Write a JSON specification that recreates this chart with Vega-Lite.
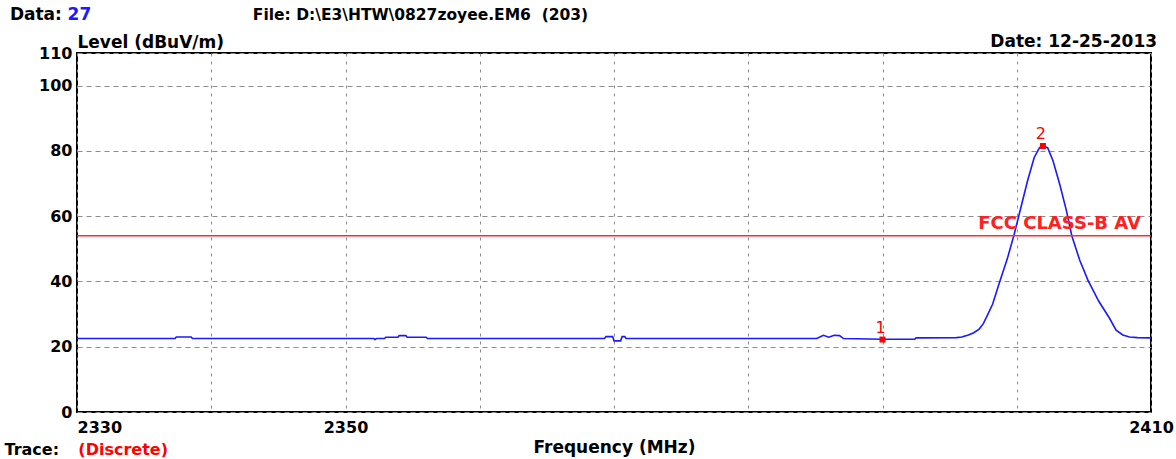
{
  "$schema": "https://vega.github.io/schema/vega-lite/v6.json",
  "width": 1074,
  "height": 359,
  "autosize": "none",
  "padding": {"left": 77, "top": 53, "right": 25, "bottom": 47},
  "background": "white",
  "config": {
    "view": {"stroke": "black", "strokeWidth": 2},
    "font": "DejaVu Sans",
    "axis": {
      "domain": false,
      "ticks": false,
      "labelFont": "DejaVu Sans",
      "labelFontWeight": "bold",
      "labelFontSize": 16,
      "labelColor": "black",
      "titleFont": "DejaVu Sans",
      "titleFontWeight": "bold",
      "titleFontSize": 17,
      "titleColor": "black",
      "gridColor": "#8c8c8c",
      "gridWidth": 1
    }
  },
  "datasets": {
    "trace": [
      {"freq": 2330.0, "level": 22.5},
      {"freq": 2337.3, "level": 22.5},
      {"freq": 2337.4, "level": 23.0},
      {"freq": 2338.5, "level": 23.0},
      {"freq": 2338.6, "level": 22.5},
      {"freq": 2352.1, "level": 22.5},
      {"freq": 2352.2, "level": 22.2},
      {"freq": 2352.3, "level": 22.5},
      {"freq": 2352.9, "level": 22.5},
      {"freq": 2353.0, "level": 22.9},
      {"freq": 2353.9, "level": 22.9},
      {"freq": 2354.0, "level": 23.4},
      {"freq": 2354.5, "level": 23.4},
      {"freq": 2354.6, "level": 22.9},
      {"freq": 2356.0, "level": 22.9},
      {"freq": 2356.1, "level": 22.5},
      {"freq": 2369.3, "level": 22.5},
      {"freq": 2369.4, "level": 23.1},
      {"freq": 2369.9, "level": 23.1},
      {"freq": 2370.0, "level": 21.8},
      {"freq": 2370.5, "level": 21.8},
      {"freq": 2370.6, "level": 23.1},
      {"freq": 2370.8, "level": 23.1},
      {"freq": 2370.9, "level": 22.5},
      {"freq": 2385.1, "level": 22.5},
      {"freq": 2385.6, "level": 23.5},
      {"freq": 2386.0, "level": 22.9},
      {"freq": 2386.4, "level": 23.5},
      {"freq": 2386.8, "level": 23.4},
      {"freq": 2387.1, "level": 22.5},
      {"freq": 2390.0, "level": 22.3},
      {"freq": 2392.4, "level": 22.3},
      {"freq": 2392.5, "level": 22.7},
      {"freq": 2395.5, "level": 22.8},
      {"freq": 2395.9, "level": 23.0},
      {"freq": 2396.4, "level": 23.6},
      {"freq": 2396.8, "level": 24.3},
      {"freq": 2397.2, "level": 25.4},
      {"freq": 2397.5, "level": 27.0},
      {"freq": 2397.8, "level": 29.5},
      {"freq": 2398.2, "level": 33.0},
      {"freq": 2398.7, "level": 39.5},
      {"freq": 2399.3, "level": 47.0},
      {"freq": 2399.8, "level": 54.3},
      {"freq": 2400.3, "level": 62.5},
      {"freq": 2400.8, "level": 70.8},
      {"freq": 2401.3, "level": 78.0},
      {"freq": 2401.7, "level": 81.0},
      {"freq": 2401.95, "level": 81.5},
      {"freq": 2402.3, "level": 81.0},
      {"freq": 2402.7, "level": 77.0},
      {"freq": 2403.2, "level": 69.8},
      {"freq": 2403.7, "level": 61.7},
      {"freq": 2404.1, "level": 54.0},
      {"freq": 2404.7, "level": 46.4},
      {"freq": 2405.3, "level": 40.4},
      {"freq": 2406.1, "level": 34.0},
      {"freq": 2406.9, "level": 28.8},
      {"freq": 2407.4, "level": 25.1},
      {"freq": 2407.9, "level": 23.6},
      {"freq": 2408.4, "level": 23.0},
      {"freq": 2409.0, "level": 22.8},
      {"freq": 2410.0, "level": 22.7}
    ],
    "markers": [
      {"freq": 2390.0, "level": 22.2, "label": "1"},
      {"freq": 2401.95, "level": 81.5, "label": "2"}
    ]
  },
  "layer": [
    {
      "data": {"name": "trace"},
      "mark": {"type": "line", "color": "#1a1aff", "strokeWidth": 1.6, "clip": true},
      "encoding": {
        "x": {
          "field": "freq",
          "type": "quantitative",
          "title": "Frequency (MHz)",
          "scale": {"domain": [2330, 2410], "nice": false, "zero": false},
          "axis": {
            "values": [2330, 2340, 2350, 2360, 2370, 2380, 2390, 2400, 2410],
            "format": "d",
            "labelExpr": "datum.value == 2330 || datum.value == 2350 || datum.value == 2410 ? datum.label : ''",
            "labelAlign": {"condition": {"test": "datum.value == 2330", "value": "left"}, "value": "center"},
            "labelPadding": 7,
            "labelFlush": false,
            "labelOverlap": false,
            "titlePadding": 4,
            "gridDash": [3, 5]
          }
        },
        "y": {
          "field": "level",
          "type": "quantitative",
          "title": "Level (dBuV/m)",
          "scale": {"domain": [0, 110], "nice": false},
          "axis": {
            "values": [0, 20, 40, 60, 80, 100, 110],
            "labelPadding": 5,
            "labelOverlap": false,
            "gridDash": [5, 4],
            "titleAngle": 0,
            "titleAlign": "left",
            "titleBaseline": "bottom",
            "titleX": 0,
            "titleY": -2
          }
        }
      }
    },
    {
      "data": {"values": [{}]},
      "mark": {"type": "rule", "color": "#ff2a2a", "strokeWidth": 1.3},
      "encoding": {
        "y": {"datum": 54, "type": "quantitative", "scale": {"domain": [0, 110], "nice": false}}
      }
    },
    {
      "data": {"values": [{}]},
      "mark": {"type": "text", "text": "FCC CLASS-B AV", "color": "#ff2020", "fontWeight": "bold", "fontSize": 18, "align": "right", "baseline": "bottom", "dx": -10, "dy": -3},
      "encoding": {
        "x": {"datum": 2410, "type": "quantitative", "scale": {"domain": [2330, 2410], "nice": false, "zero": false}},
        "y": {"datum": 54, "type": "quantitative", "scale": {"domain": [0, 110], "nice": false}}
      }
    },
    {
      "data": {"name": "markers"},
      "mark": {"type": "square", "color": "#ff0000", "filled": true, "opacity": 1, "size": 36},
      "encoding": {
        "x": {"field": "freq", "type": "quantitative", "scale": {"domain": [2330, 2410], "nice": false, "zero": false}},
        "y": {"field": "level", "type": "quantitative", "scale": {"domain": [0, 110], "nice": false}}
      }
    },
    {
      "data": {"name": "markers"},
      "mark": {"type": "text", "color": "#ff0000", "fontSize": 16, "baseline": "bottom", "dx": -2, "dy": -4},
      "encoding": {
        "x": {"field": "freq", "type": "quantitative", "scale": {"domain": [2330, 2410], "nice": false, "zero": false}},
        "y": {"field": "level", "type": "quantitative", "scale": {"domain": [0, 110], "nice": false}},
        "text": {"field": "label", "type": "nominal"}
      }
    },
    {
      "data": {"values": [{}]},
      "mark": {"type": "text", "text": "Data:", "color": "black", "fontWeight": "bold", "fontSize": 17, "align": "left", "baseline": "middle"},
      "encoding": {
        "x": {"datum": 2325.0, "type": "quantitative", "scale": {"domain": [2330, 2410], "nice": false, "zero": false}},
        "y": {"datum": 121.5, "type": "quantitative", "scale": {"domain": [0, 110], "nice": false}}
      }
    },
    {
      "data": {"values": [{}]},
      "mark": {"type": "text", "text": "27", "color": "#1a1aff", "fontWeight": "bold", "fontSize": 17, "align": "left", "baseline": "middle"},
      "encoding": {
        "x": {"datum": 2329.3, "type": "quantitative", "scale": {"domain": [2330, 2410], "nice": false, "zero": false}},
        "y": {"datum": 121.5, "type": "quantitative", "scale": {"domain": [0, 110], "nice": false}}
      }
    },
    {
      "data": {"values": [{}]},
      "mark": {"type": "text", "text": "File: D:\\E3\\HTW\\0827zoyee.EM6\u00a0 (203)", "color": "black", "fontWeight": "bold", "fontSize": 15.5, "align": "left", "baseline": "middle"},
      "encoding": {
        "x": {"datum": 2343.1, "type": "quantitative", "scale": {"domain": [2330, 2410], "nice": false, "zero": false}},
        "y": {"datum": 121.5, "type": "quantitative", "scale": {"domain": [0, 110], "nice": false}}
      }
    },
    {
      "data": {"values": [{}]},
      "mark": {"type": "text", "text": "Date: 12-25-2013", "color": "black", "fontWeight": "bold", "fontSize": 17, "align": "right", "baseline": "middle"},
      "encoding": {
        "x": {"datum": 2410.45, "type": "quantitative", "scale": {"domain": [2330, 2410], "nice": false, "zero": false}},
        "y": {"datum": 113.4, "type": "quantitative", "scale": {"domain": [0, 110], "nice": false}}
      }
    },
    {
      "data": {"values": [{}]},
      "mark": {"type": "text", "text": "Trace:", "color": "black", "fontWeight": "bold", "fontSize": 16, "align": "left", "baseline": "bottom"},
      "encoding": {
        "x": {"datum": 2324.6, "type": "quantitative", "scale": {"domain": [2330, 2410], "nice": false, "zero": false}},
        "y": {"datum": -14.0, "type": "quantitative", "scale": {"domain": [0, 110], "nice": false}}
      }
    },
    {
      "data": {"values": [{}]},
      "mark": {"type": "text", "text": "(Discrete)", "color": "#ff0000", "fontWeight": "bold", "fontSize": 16, "align": "left", "baseline": "bottom"},
      "encoding": {
        "x": {"datum": 2330.1, "type": "quantitative", "scale": {"domain": [2330, 2410], "nice": false, "zero": false}},
        "y": {"datum": -14.0, "type": "quantitative", "scale": {"domain": [0, 110], "nice": false}}
      }
    }
  ]
}
